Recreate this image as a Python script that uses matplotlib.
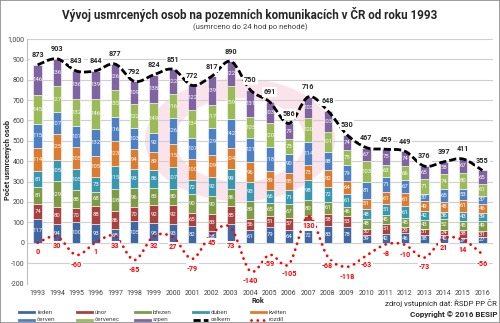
import matplotlib
matplotlib.use('Agg')
import matplotlib.pyplot as plt
from matplotlib.path import Path
from matplotlib.patches import PathPatch, Rectangle, Wedge
from matplotlib.lines import Line2D

plt.rcParams['font.family'] = ['Roboto', 'DejaVu Sans']

years = [str(y) for y in range(1993, 2017)]
leden = [117, 94, 100, 93, 68, 105, 95, 93, 82, 58, 93, 61, 79, 64, 72, 83, 78, 39, 42, 46, 38, 40, 24, 27]
unor = [74, 80, 70, 88, 86, 70, 92, 92, 65, 83, 85, 56, 51, 57, 57, 58, 53, 30, 51, 29, 31, 24, 38, 31]
brezen = [81, 129, 88, 68, 108, 96, 83, 80, 90, 90, 86, 89, 65, 67, 80, 61, 46, 48, 45, 45, 43, 52, 45, 49]
duben = [81, 105, 105, 73, 115, 93, 86, 107, 72, 92, 99, 93, 66, 71, 98, 72, 61, 48, 51, 61, 42, 36, 43, 39]
kveten = [114, 125, 105, 105, 123, 94, 89, 115, 100, 109, 104, 96, 89, 85, 73, 82, 64, 51, 61, 61, 49, 48, 61, 46]
cerven = [115, 107, 107, 132, 116, 103, 92, 126, 107, 129, 142, 121, 118, 90, 114, 88, 79, 81, 71, 67, 37, 65, 53, 37]
cervenec = [145, 127, 132, 146, 135, 122, 149, 116, 134, 117, 159, 103, 120, 73, 120, 101, 75, 103, 63, 66, 71, 74, 80, 61]
srpen = [146, 136, 136, 139, 126, 109, 138, 122, 122, 139, 122, 131, 103, 79, 102, 103, 74, 67, 75, 74, 65, 58, 67, 65]
celkem = [873, 903, 843, 844, 877, 792, 824, 851, 772, 817, 890, 750, 691, 586, 716, 648, 530, 467, 459, 449, 376, 397, 411, 355]
rozdil = [0, 30, -60, 1, 33, -85, 32, 27, -79, 45, 73, -140, -59, -105, 130, -68, -118, -63, -8, -10, -73, 21, 14, -56]

month_names = ['leden', 'únor', 'březen', 'duben', 'květen', 'červen', 'červenec', 'srpen']
month_data = [leden, unor, brezen, duben, kveten, cerven, cervenec, srpen]
month_colors = ['#3F68A3', '#A8423F', '#7E9B45', '#3A97B0', '#DB7D30', '#4E80C4', '#9BBB59', '#8064A2']

W, H = 500, 323
fig = plt.figure(figsize=(W / 100, H / 100), dpi=100)
fig.patch.set_facecolor('white')

def fx(px):
    return px / W

def fy(py):
    return 1 - py / H

# faint watermark ring (logo) behind the plot
fig.add_artist(Wedge((fx(240), fy(140)), 0.19, 0, 360, width=0.06, transform=fig.transFigure,
                     facecolor='#FBE3EB', edgecolor='none', zorder=-2))

ax = fig.add_axes([fx(27), fy(283.5), fx(493) - fx(27), fy(39) - fy(283.5)])
ax.set_facecolor('none')
x = list(range(len(years)))
ax.set_xlim(-0.55, len(years) - 0.45)
ax.set_ylim(-200, 1000)
ax.set_yticks(range(-200, 1001, 100))
ax.set_yticklabels([f'{v:,}' for v in range(-200, 1001, 100)])
ax.set_xticks(x)
ax.set_xticklabels(years)
ax.tick_params(axis='both', length=0, labelsize=5, colors='#404040')
ax.tick_params(axis='x', pad=5)
ax.tick_params(axis='y', pad=2)
ax.grid(axis='y', color='#D0D0D0', linewidth=0.8, zorder=0)
ax.set_axisbelow(True)
for s in ['top', 'right', 'bottom']:
    ax.spines[s].set_visible(False)
ax.spines['left'].set_color('#BFBFBF')
ax.spines['left'].set_linewidth(0.8)

# segment labels that are covered by the difference labels in the original chart
hidden_labels = {('únor', '2007'), ('leden', '2003')}

bottom = [0] * len(years)
for name, data, col in zip(month_names, month_data, month_colors):
    ax.bar(x, data, width=0.43, bottom=bottom, color=col, edgecolor='white', linewidth=0.4, zorder=2)
    for xi, yr, b, v in zip(x, years, bottom, data):
        if (name, yr) in hidden_labels:
            continue
        ax.text(xi, b + v / 2, str(v), ha='center', va='center', fontsize=4.3, color='white', zorder=3)
    bottom = [b + v for b, v in zip(bottom, data)]

def smooth_path(xs, ys):
    n = len(xs)
    verts = [(xs[0], ys[0])]
    codes = [Path.MOVETO]
    for i in range(n - 1):
        p0 = i - 1 if i > 0 else i
        p3 = i + 2 if i + 2 < n else i + 1
        c1 = (xs[i] + (xs[i + 1] - xs[p0]) / 6, ys[i] + (ys[i + 1] - ys[p0]) / 6)
        c2 = (xs[i + 1] - (xs[p3] - xs[i]) / 6, ys[i + 1] - (ys[p3] - ys[i]) / 6)
        verts += [c1, c2, (xs[i + 1], ys[i + 1])]
        codes += [Path.CURVE4] * 3
    return Path(verts, codes)

ax.add_patch(PathPatch(smooth_path(x, celkem), fill=False, edgecolor='black', linewidth=2.0,
                       linestyle=(0, (2.6, 1.1)), zorder=4))
ax.add_patch(PathPatch(smooth_path(x, rozdil), fill=False, edgecolor='#FF0000', linewidth=2.0,
                       linestyle=(0, (0.05, 2.2)), capstyle='round', zorder=4))

for xi, v in zip(x, celkem):
    ax.annotate(str(v), (xi, v), xytext=(0, 7), textcoords='offset points', ha='center', va='center',
                fontsize=5.2, fontweight='bold', color='#262626', zorder=5,
                bbox=dict(boxstyle='square,pad=0.15', fc='white', ec='none'))

diff_label_offset = {'2003': -13}
for xi, yr, v in zip(x, years, rozdil):
    ax.annotate(str(v), (xi, v), xytext=(0, diff_label_offset.get(yr, -7)), textcoords='offset points',
                ha='center', va='center', fontsize=5.2, fontweight='bold', color='#FF0000', zorder=5,
                bbox=dict(boxstyle='square,pad=0.15', fc='white', ec='none'))

fig.text(fx(258), fy(301), 'Rok', ha='center', va='center', fontsize=5.3, fontweight='bold', color='#262626')
fig.text(fx(8), fy(160), 'Počet usmrcených osob', ha='center', va='center', rotation=90,
         fontsize=5.3, fontweight='bold', color='#262626')

fig.text(0.5, fy(14), 'Vývoj usmrcených osob na pozemních komunikacích v ČR od roku 1993',
         ha='center', va='center', fontsize=8.4, fontweight='bold', fontstyle='normal', color='#262626')
fig.text(0.5, fy(27), '(usmrceno do 24 hod po nehodě)', ha='center', va='center', fontsize=5.6, color='#404040')

fig.text(fx(497), fy(303), 'zdroj vstupních dat: ŘSDP PP ČR', ha='right', va='center', fontsize=5.6, color='#262626')
fig.text(fx(497), fy(314), 'Copyright © 2016 BESIP', ha='right', va='center', fontsize=5.8, fontweight='bold', color='#262626')

legend_names = month_names + ['celkem', 'rozdíl']
for i, name in enumerate(legend_names):
    row, col = divmod(i, 5)
    x0 = 19 + col * 58
    yy = 312 + row * 7.5
    if name == 'celkem':
        ln = Line2D([fx(x0), fx(x0 + 15)], [fy(yy), fy(yy)], color='black', linewidth=2,
                    linestyle=(0, (2.6, 1.1)), transform=fig.transFigure)
    elif name == 'rozdíl':
        ln = Line2D([fx(x0), fx(x0 + 15)], [fy(yy), fy(yy)], color='#FF0000', linewidth=2,
                    linestyle=(0, (0.05, 2.2)), dash_capstyle='round', transform=fig.transFigure)
    else:
        ln = Line2D([fx(x0), fx(x0 + 15)], [fy(yy), fy(yy)], color=month_colors[i], linewidth=2,
                    transform=fig.transFigure)
    fig.add_artist(ln)
    fig.text(fx(x0 + 18), fy(yy), name, ha='left', va='center', fontsize=4.5, color='#404040')

fig.add_artist(Rectangle((0, 0), 1, 1, transform=fig.transFigure, fill=False, edgecolor='#8C8C8C', linewidth=1.2))

fig.savefig('out.png', dpi=100)
